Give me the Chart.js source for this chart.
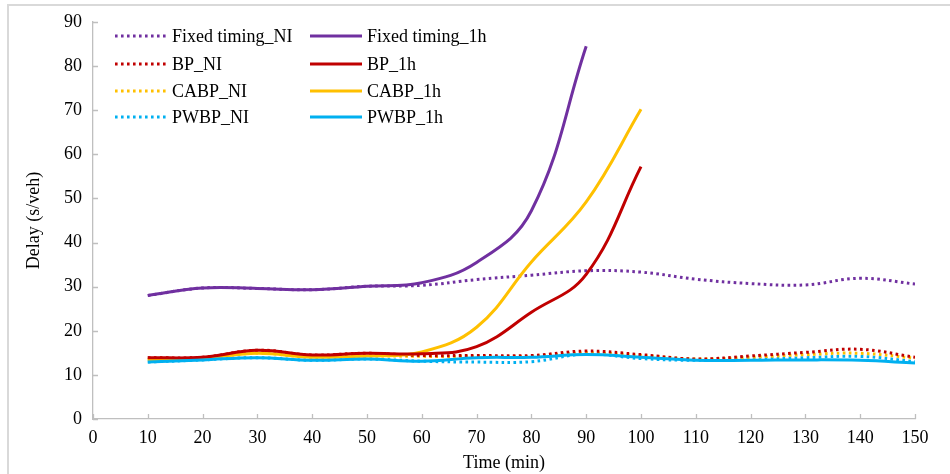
<!DOCTYPE html>
<html>
<head>
<meta charset="utf-8">
<script src="https://cdn.jsdelivr.net/npm/chart.js@4.4.1/dist/chart.umd.min.js"></script>
<style>
  html, body { margin: 0; padding: 0; background: #fff; }
  #wrap { width: 950px; height: 474px; position: relative; }
</style>
</head>
<body>
<div id="wrap"><canvas id="chart" width="950" height="474"></canvas></div>
<script>
// Tiempo (min) y retrasos
var times = [10, 20, 30, 40, 50, 60, 70, 80, 90, 100, 110, 120, 130, 140, 150];

var fixedNI = [28.0, 29.7, 29.6, 29.3, 30.1, 30.3, 31.6, 32.6, 33.6, 33.3, 31.7, 30.7, 30.4, 31.9, 30.6];
var fixed1h = [28.0, 29.7, 29.6, 29.3, 30.1, 30.9, 35.5, 47.2, 84.5];
var bpNI    = [13.9, 14.0, 15.6, 14.5, 14.9, 14.4, 14.4, 14.4, 15.4, 14.6, 13.6, 14.3, 15.1, 15.8, 14.0];
var bp1h    = [13.9, 14.0, 15.6, 14.5, 14.9, 14.8, 16.4, 24.2, 32.8, 57.2];
var cabpNI  = [13.5, 13.8, 14.9, 14.0, 14.3, 14.2, 14.2, 14.2, 15.0, 14.4, 13.6, 14.0, 14.6, 14.9, 13.8];
var cabp1h  = [13.5, 13.8, 14.9, 14.0, 14.3, 15.2, 20.8, 35.6, 49.2, 70.2];
var pwbpNI  = [12.9, 13.4, 13.9, 13.3, 13.6, 13.1, 12.9, 13.0, 14.7, 13.7, 13.3, 13.6, 13.9, 14.2, 13.0];
var pwbp1h  = [12.9, 13.4, 13.9, 13.3, 13.6, 13.1, 13.9, 14.0, 14.6, 14.0, 13.3, 13.3, 13.4, 13.3, 12.7];

var xTicks = [0, 150, 10];
var yTicks = [0, 90, 10];

var FONT = "'Liberation Serif', 'Times New Roman', serif";

function pts(vals) {
    return vals.map(function (v, i) { return { x: times[i], y: v }; });
}

function serie(label, vals, color, dotted) {
    return {
        label: label,
        data: pts(vals),
        borderColor: color,
        backgroundColor: color,
        borderWidth: 3,
        borderDash: dotted ? [2.6, 3.4] : [],
        pointRadius: 0,
        tension: 0.4,
        fill: false
    };
}

var datasets = [
    serie("PWBP_1h", pwbp1h, "#00B0F0", false),
    serie("Fixed timing_1h", fixed1h, "#7030A0", false),
    serie("BP_1h", bp1h, "#C00000", false),
    serie("CABP_1h", cabp1h, "#FFC000", false),
    serie("Fixed timing_NI", fixedNI, "#7030A0", true),
    serie("BP_NI", bpNI, "#C00000", true),
    serie("CABP_NI", cabpNI, "#FFC000", true),
    serie("PWBP_NI", pwbpNI, "#00B0F0", true)
];

// orden de la leyenda (2 columnas)
var legendOrder = [
    ["Fixed timing_NI", "Fixed timing_1h"],
    ["BP_NI", "BP_1h"],
    ["CABP_NI", "CABP_1h"],
    ["PWBP_NI", "PWBP_1h"]
];

var framePlugin = {
    id: "frame",
    beforeDraw: function (chart) {
        var c = chart.ctx;
        c.save();
        c.strokeStyle = "#d9d9d9";
        c.lineWidth = 2;
        c.beginPath();
        c.moveTo(8, 474);
        c.lineTo(8, 5);
        c.lineTo(950, 5);
        c.stroke();
        c.restore();
    }
};

// marcas de graduación hacia dentro, como en Excel
var tickPlugin = {
    id: "innerTicks",
    afterDatasetsDraw: function (chart) {
        var c = chart.ctx;
        var xs = chart.scales.x, ys = chart.scales.y;
        c.save();
        c.strokeStyle = "#bfbfbf";
        c.lineWidth = 1.3;
        c.beginPath();
        xs.ticks.forEach(function (t, i) {
            var px = Math.round(xs.getPixelForTick(i)) + 0.5;
            c.moveTo(px, ys.bottom);
            c.lineTo(px, ys.bottom - 5);
        });
        ys.ticks.forEach(function (t, i) {
            var py = Math.round(ys.getPixelForTick(i)) + 0.5;
            c.moveTo(xs.left, py);
            c.lineTo(xs.left + 5, py);
        });
        c.stroke();
        c.restore();
    }
};

var legendPlugin = {
    id: "twoColLegend",
    afterDraw: function (chart) {
        var c = chart.ctx;
        var colX = [115, 310];
        var rowY = [36, 64, 91, 117];
        c.save();
        c.font = "18px " + FONT;
        c.textBaseline = "middle";
        c.fillStyle = "#000";
        legendOrder.forEach(function (row, r) {
            row.forEach(function (name, k) {
                var ds = chart.data.datasets.find(function (d) { return d.label === name; });
                var x = colX[k], y = rowY[r];
                c.strokeStyle = ds.borderColor;
                c.lineWidth = ds.borderWidth;
                c.setLineDash(ds.borderDash);
                c.beginPath();
                c.moveTo(x, y);
                c.lineTo(x + 52, y);
                c.stroke();
                c.setLineDash([]);
                c.fillText(name, x + 57, y + 1);
            });
        });
        c.restore();
    }
};

new Chart(document.getElementById("chart").getContext("2d"), {
    type: "line",
    data: { datasets: datasets },
    options: {
        responsive: false,
        animation: false,
        layout: { padding: { left: 23, right: 35, top: 22, bottom: 0 } },
        plugins: {
            legend: { display: false },
            tooltip: { enabled: false }
        },
        scales: {
            x: {
                type: "linear",
                min: xTicks[0],
                max: xTicks[1],
                ticks: { stepSize: xTicks[2], color: "#000", font: { family: FONT, size: 18 }, padding: 8 },
                grid: { display: false, drawTicks: false },
                border: { display: true, color: "#bfbfbf", width: 1.3 },
                title: { display: true, text: "Time (min)", color: "#000", font: { family: FONT, size: 18 }, padding: { top: 0, bottom: 0 } },
                afterFit: function (s) { s.height = 55; }
            },
            y: {
                min: yTicks[0],
                max: yTicks[1],
                ticks: { stepSize: yTicks[2], color: "#000", font: { family: FONT, size: 18 }, padding: 11 },
                grid: { display: false, drawTicks: false },
                border: { display: true, color: "#bfbfbf", width: 1.3 },
                title: { display: true, text: "Delay (s/veh)", color: "#000", font: { family: FONT, size: 18 }, padding: { top: 0, bottom: 0 } },
                afterFit: function (s) { s.width = 70; }
            }
        }
    },
    plugins: [framePlugin, tickPlugin, legendPlugin]
});
</script>
</body>
</html>
